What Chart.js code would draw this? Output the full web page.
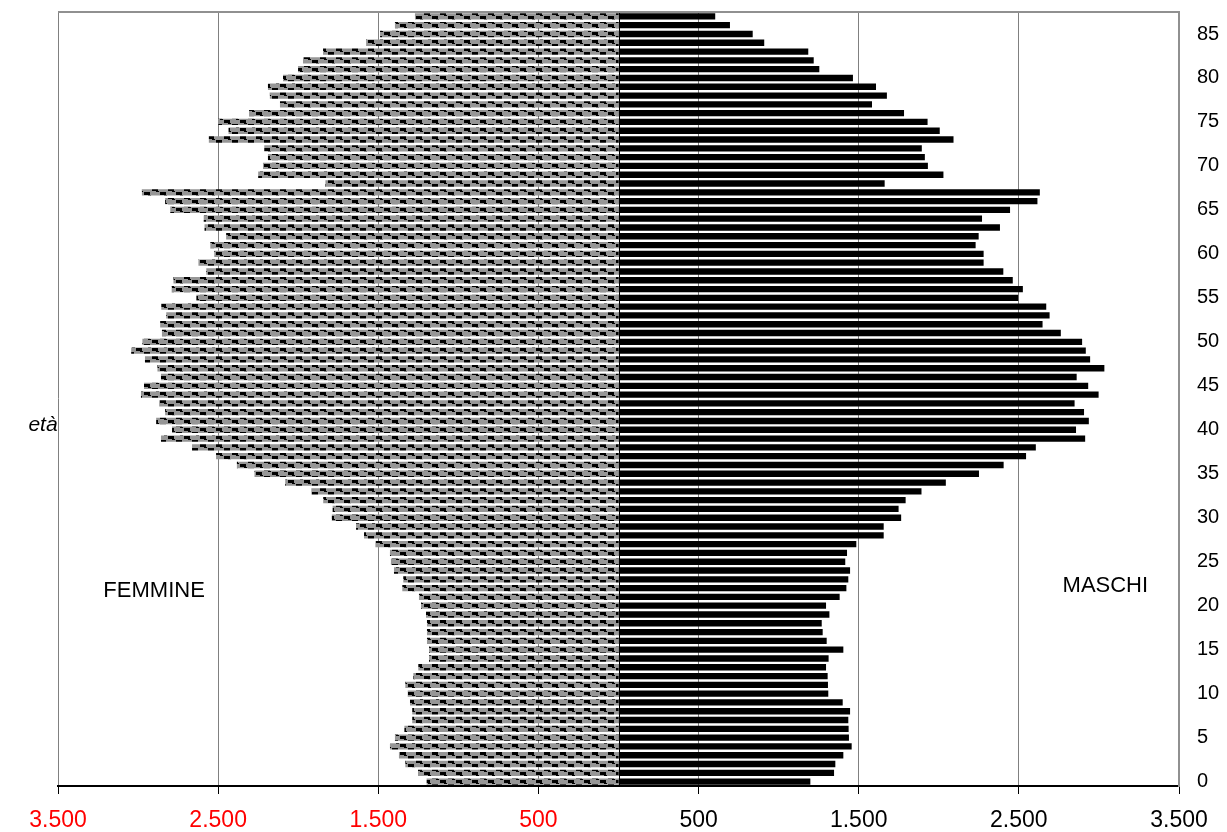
<!DOCTYPE html>
<html>
<head>
<meta charset="utf-8">
<script src="https://cdn.jsdelivr.net/npm/chart.js@4/dist/chart.umd.min.js"></script>
<style>
  html, body { margin: 0; padding: 0; background: #fff; }
  .wrap { width: 1227px; height: 832px; }
</style>
</head>
<body>
<div class="wrap"><canvas id="piramide"></canvas></div>
<script>
// età 0 .. 87
const eta = [
  '0','1','2','3','4','5','6','7','8','9',
  '10','11','12','13','14','15','16','17','18','19',
  '20','21','22','23','24','25','26','27','28','29',
  '30','31','32','33','34','35','36','37','38','39',
  '40','41','42','43','44','45','46','47','48','49',
  '50','51','52','53','54','55','56','57','58','59',
  '60','61','62','63','64','65','66','67','68','69',
  '70','71','72','73','74','75','76','77','78','79',
  '80','81','82','83','84','85','86','87'
];

const maschi = [
  1198, 1346, 1354, 1404, 1456, 1439, 1437, 1435, 1446, 1400,
  1310, 1308, 1306, 1296, 1312, 1404, 1300, 1275, 1269, 1317,
  1296, 1381, 1423, 1435, 1446, 1416, 1427, 1485, 1656, 1656,
  1765, 1749, 1793, 1892, 2044, 2251, 2405, 2545, 2606, 2914,
  2857, 2937, 2907, 2848, 2998, 2933, 2861, 3034, 2945, 2918,
  2895, 2762, 2648, 2692, 2671, 2496, 2525, 2462, 2403, 2280,
  2280, 2230, 2249, 2382, 2270, 2445, 2616, 2631, 1662, 2029,
  1932, 1913, 1894, 2092, 2006, 1930, 1783, 1583, 1676, 1608,
  1464, 1254, 1219, 1185, 910, 838, 696, 604
];

const femmine = [
  1198, 1252, 1331, 1371, 1427, 1396, 1337, 1288, 1288, 1302,
  1316, 1331, 1281, 1250, 1183, 1183, 1196, 1196, 1196, 1202,
  1233, 1246, 1350, 1344, 1402, 1421, 1427, 1518, 1589, 1639,
  1790, 1785, 1844, 1918, 2081, 2273, 2383, 2513, 2663, 2857,
  2788, 2887, 2831, 2868, 2982, 2963, 2857, 2879, 2957, 3043,
  2973, 2851, 2862, 2824, 2855, 2636, 2790, 2779, 2574, 2623,
  2524, 2549, 2450, 2585, 2590, 2799, 2831, 2976, 1830, 2250,
  2220, 2189, 2212, 2558, 2435, 2499, 2307, 2114, 2177, 2189,
  2095, 2001, 1970, 1845, 1576, 1489, 1396, 1271
];

// scala orizzontale: -3.500 .. 3.500, tacche ogni 1.000
const xMin = -3500;
const xMax = 3500;
const xStep = 1000;
const passoEta = 5;

// etichette dentro il grafico
const etichette = [
  { testo: 'FEMMINE', x: -2900, eta: 21.7 },
  { testo: 'MASCHI', x: 3040, eta: 22.3 }
];

function migliaia(v) {
  return String(Math.abs(v)).replace(/\B(?=(\d{3})+(?!\d))/g, '.');
}

// tratteggio grigio/nero delle femmine
function tratteggio() {
  const c = document.createElement('canvas');
  c.width = 16;
  c.height = 8;
  const g = c.getContext('2d');
  g.fillStyle = '#969696';
  g.fillRect(0, 0, 16, 8);
  g.fillStyle = '#000';
  g.fillRect(0, 0, 6, 3);
  g.fillRect(4, 3, 3, 1);
  g.fillRect(8, 4, 6, 3);
  g.fillRect(12, 7, 3, 1);
  return g.createPattern(c, 'repeat');
}

// asse verticale allo zero, bordo superiore + testi
const extra = {
  id: 'extra',
  afterDatasetsDraw(chart) {
    const { ctx, chartArea, scales } = chart;
    const x0 = Math.round(scales.x.getPixelForValue(0)) + 0.5;
    ctx.save();
    ctx.strokeStyle = '#000';
    ctx.lineWidth = 1;
    ctx.beginPath();
    ctx.moveTo(x0, chartArea.top);
    ctx.lineTo(x0, chartArea.bottom);
    ctx.stroke();
    ctx.strokeStyle = '#909090';
    ctx.lineWidth = 2;
    ctx.beginPath();
    ctx.moveTo(chartArea.left, chartArea.top);
    ctx.lineTo(chartArea.right, chartArea.top);
    ctx.stroke();
    ctx.restore();
  },
  afterDraw(chart) {
    const { ctx, chartArea, scales } = chart;
    const y = scales.y;
    const step = y.getPixelForValue(0) - y.getPixelForValue(1);
    ctx.save();
    ctx.fillStyle = '#000';
    ctx.textAlign = 'center';
    ctx.textBaseline = 'middle';
    ctx.font = '22px "Liberation Sans", Arial, sans-serif';
    etichette.forEach(e => {
      const px = scales.x.getPixelForValue(e.x);
      const py = y.getPixelForValue(0) - e.eta * step;
      ctx.fillText(e.testo, px, py);
    });
    ctx.font = 'italic 21px "Liberation Sans", Arial, sans-serif';
    ctx.fillText('età', chartArea.left - 15, y.getPixelForValue(0) - 40.5 * step);
    ctx.restore();
  }
};

const ctx = document.getElementById('piramide');
new Chart(ctx, {
  type: 'bar',
  data: {
    labels: eta,
    datasets: [
      {
        label: 'Femmine',
        data: femmine.map(v => -v),
        backgroundColor: tratteggio(),
        borderWidth: 0,
        barPercentage: 0.72,
        categoryPercentage: 1
      },
      {
        label: 'Maschi',
        data: maschi,
        backgroundColor: '#000',
        borderWidth: 0,
        barPercentage: 0.72,
        categoryPercentage: 1
      }
    ]
  },
  plugins: [extra],
  options: {
    indexAxis: 'y',
    responsive: true,
    maintainAspectRatio: false,
    animation: false,
    layout: {
      padding: { left: 58, right: 0, top: 12, bottom: 0 }
    },
    plugins: {
      legend: { display: false },
      tooltip: { enabled: false }
    },
    scales: {
      x: {
        stacked: true,
        min: xMin,
        max: xMax,
        z: 1,
        afterFit: s => {
          s.paddingLeft = 0;
          s.paddingRight = 0;
          s.height = 46;
        },
        ticks: {
          stepSize: xStep,
          padding: 13,
          font: { family: '"Liberation Sans", Arial, sans-serif', size: 23 },
          color: c => (c.tick && c.tick.value < 0) ? '#ff0000' : '#000',
          callback: v => migliaia(v)
        },
        grid: {
          color: '#808080',
          lineWidth: 1,
          tickLength: 8,
          tickColor: '#000'
        },
        border: { color: '#000', width: 2 }
      },
      y: {
        stacked: true,
        reverse: true,
        position: 'right',
        afterFit: s => {
          s.paddingTop = 0;
          s.paddingBottom = 0;
          s.width = 48;
        },
        ticks: {
          autoSkip: false,
          padding: 18,
          font: { family: '"Liberation Sans", Arial, sans-serif', size: 20 },
          color: '#000',
          callback: (v, i) => (i % passoEta === 0 ? eta[i] : '')
        },
        grid: { display: false, drawTicks: false },
        border: { color: '#909090', width: 2 }
      }
    }
  }
});
</script>
</body>
</html>
